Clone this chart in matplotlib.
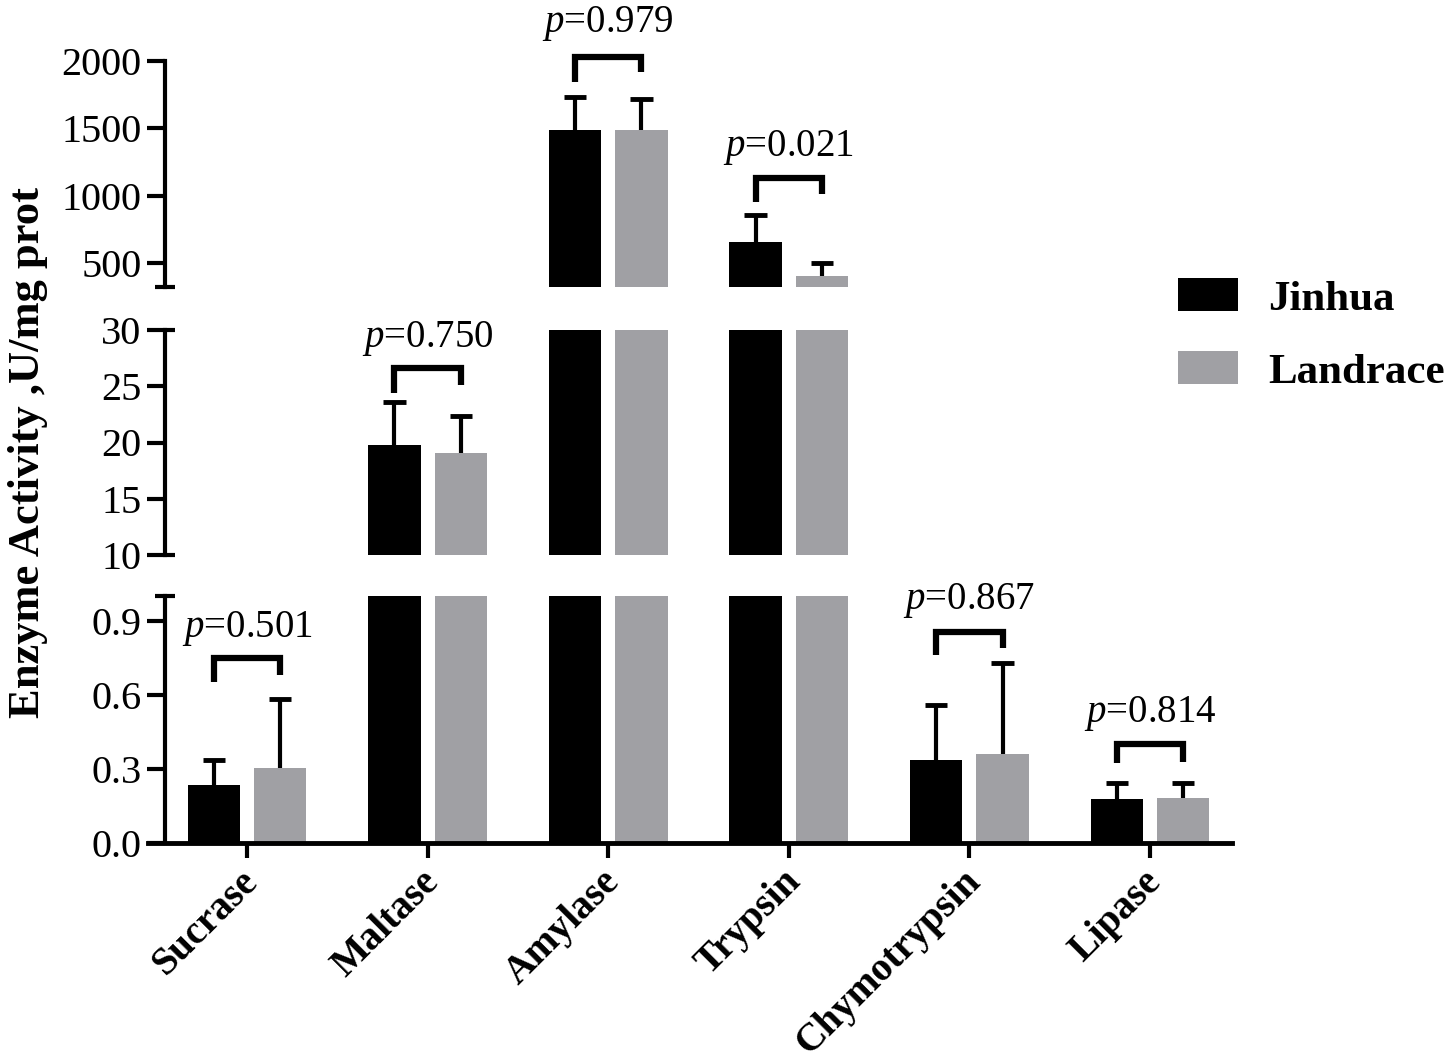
import numpy as np
import matplotlib
matplotlib.use('Agg')
import matplotlib.pyplot as plt
import matplotlib.transforms as mtransforms
from matplotlib.patches import Patch

plt.rcParams['font.family'] = ['Liberation Serif', 'DejaVu Serif']
plt.rcParams['mathtext.fontset'] = 'custom'
plt.rcParams['mathtext.rm'] = 'Liberation Serif'
plt.rcParams['mathtext.it'] = 'Liberation Serif:italic'

# data
enzymes = ['Sucrase', 'Maltase', 'Amylase', 'Trypsin', 'Chymotrypsin', 'Lipase']
jinhua_mean = [0.236, 19.8, 1487, 656, 0.336, 0.18]
jinhua_sd = [0.10, 3.8, 245, 200, 0.224, 0.064]
landrace_mean = [0.304, 19.1, 1487, 403, 0.36, 0.184]
landrace_sd = [0.28, 3.3, 230, 97, 0.368, 0.06]
p_values = ['0.501', '0.750', '0.979', '0.021', '0.867', '0.814']

# which broken-axis segment holds each p-value bracket (0 = bottom)
bracket_seg = [0, 1, 2, 2, 0, 0]
bracket_top = [0.748, 26.6, 2029, 1131, 0.856, 0.40]
bracket_left = [0.652, 24.4, 1844, 953, 0.76, 0.324]
bracket_right = [0.68, 25.1, 1918, 1012, 0.788, 0.328]
label_y = [0.868, 29.2, 2282, 1354, 0.98, 0.524]

seg_limits = [(0, 1.0), (10, 30), (320, 2000)]
seg_ticks = [[0, 0.3, 0.6, 0.9], [10, 15, 20, 25, 30], [500, 1000, 1500, 2000]]
seg_ticklabels = [['0.0', '0.3', '0.6', '0.9'],
                  ['10', '15', '20', '25', '30'],
                  ['500', '1000', '1500', '2000']]
seg_caps = [[1.0], [10, 30], [320]]

GRAY = '#a0a0a4'
W, H = 1450, 1060
fig = plt.figure(figsize=(W / 100, H / 100), dpi=100)

# axes rectangles in pixels (top edge y, bottom edge y)
rects_px = [(596, 843), (330, 555), (61, 287)]
x_left, x_right = 148, 1232

x = np.arange(len(enzymes))
bw = 0.29
off = 0.184
capw = 0.062


def upper_errbar(ax, xs, means, sds):
    tops = np.array(means) + np.array(sds)
    ax.vlines(xs, means, tops, color='black', lw=3)
    ax.hlines(tops, xs - capw, xs + capw, color='black', lw=3.5)


axes = []
for i, (ytop, ybot) in enumerate(rects_px):
    ax = fig.add_axes([x_left / W, (H - ybot) / H, (x_right - x_left) / W,
                       (ybot - ytop) / H])
    ax.bar(x - off, jinhua_mean, bw, color='black', edgecolor='none')
    ax.bar(x + off, landrace_mean, bw, color=GRAY, edgecolor='none')
    upper_errbar(ax, x - off, jinhua_mean, jinhua_sd)
    upper_errbar(ax, x + off, landrace_mean, landrace_sd)
    ax.set_xlim(-0.548, 5.454)
    ax.set_ylim(*seg_limits[i])
    ax.set_yticks(seg_ticks[i])
    ax.set_yticklabels(seg_ticklabels[i])
    ax.yaxis.remove_overlapping_locs = False
    ax.set_yticks(seg_caps[i], minor=True)
    ax.tick_params(axis='y', which='major', direction='out', length=13, width=3,
                   labelsize=29, pad=4)
    if i == 1:
        ax.tick_params(axis='y', which='minor', direction='in', length=7, width=3)
    else:
        ax.tick_params(axis='y', which='minor', direction='inout', length=14, width=3)
    for s in ['top', 'right']:
        ax.spines[s].set_visible(False)
    ax.spines['left'].set_position(('data', -0.454))
    ax.spines['left'].set_linewidth(3)
    if i == 0:
        ax.spines['bottom'].set_linewidth(3.5)
        ax.set_xticks(x)
        ax.set_xticklabels(enzymes, rotation=45, ha='right', va='center',
                           rotation_mode='anchor', fontsize=28.5, fontweight='bold')
        ax.tick_params(axis='x', direction='out', length=11, width=3, pad=10)
        shift = mtransforms.ScaledTranslation(6 / 100, -4 / 100, fig.dpi_scale_trans)
        for lab in ax.get_xticklabels():
            lab.set_transform(lab.get_transform() + shift)
    else:
        ax.spines['bottom'].set_visible(False)
        ax.set_xticks([])
    ax.patch.set_visible(False)
    axes.append(ax)

# p-value brackets
for k in range(len(enzymes)):
    ax = axes[bracket_seg[k]]
    xl, xr = x[k] - off, x[k] + off
    ax.plot([xl, xl, xr, xr],
            [bracket_left[k], bracket_top[k], bracket_top[k], bracket_right[k]],
            color='black', lw=4.5, solid_joinstyle='miter', solid_capstyle='butt',
            clip_on=False)
    ax.text(x[k], label_y[k], r'$\mathit{p}$=' + p_values[k], ha='center',
            va='center', fontsize=28, clip_on=False)

fig.text(28 / W, (H - 452) / H, 'Enzyme Activity ,U/mg prot', rotation=90,
         ha='center', va='center', fontsize=32, fontweight='bold')

handles = [Patch(facecolor='black', edgecolor='none'),
           Patch(facecolor=GRAY, edgecolor='none')]
fig.legend(handles, ['Jinhua', 'Landrace'], loc='center left',
           bbox_to_anchor=(1178 / W, (H - 335) / H), frameon=False,
           borderaxespad=0, borderpad=0, handlelength=1.4, handleheight=0.8,
           handletextpad=0.7, labelspacing=0.75,
           prop=dict(size=31, weight='bold'))

fig.savefig('out.png', dpi=100)
